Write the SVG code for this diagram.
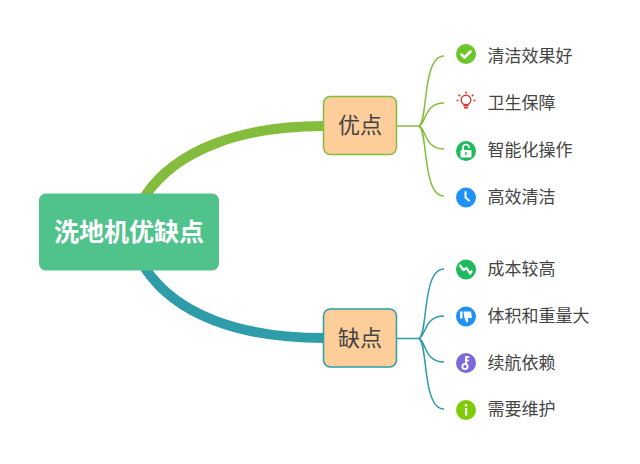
<svg xmlns="http://www.w3.org/2000/svg" width="640" height="464" viewBox="0 0 640 464">
<style>
text{font-family:"Noto Sans CJK SC","Noto Sans",sans-serif}
.leaf{font-size:17px;fill:#454545}
.sub{font-size:22px;fill:#444;text-anchor:middle}
.root{font-size:25px;font-weight:700;fill:#fff;text-anchor:middle}
.g{fill:none;stroke:#84bd3d}
.t{fill:none;stroke:#2f9ca9}
.box{fill:#fdcd9a;stroke-width:1.5}
.w{fill:none;stroke:#fff;stroke-linecap:round;stroke-linejoin:round}
</style>
<g id="connectors">
<path class="g" stroke-width="10" d="M145 196C176 150 240 126 324 126"/>
<path class="t" stroke-width="10" d="M145 268C176 315 240 338 324 338"/>
<g stroke-width="1.500">
<path class="g" d="M397 126H419"/>
<path class="g" d="M419 126C428 122 422 56 444 56"/>
<path class="g" d="M419 126C426 124 424 103 444 103"/>
<path class="g" d="M419 126C426 128 424 149 444 149"/>
<path class="g" d="M419 126C428 130 422 196 444 196"/>
<path class="t" d="M397 338.500H419"/>
<path class="t" d="M419 338.500C428 334 422 269 444 269"/>
<path class="t" d="M419 338.500C426 336 424 316 444 316"/>
<path class="t" d="M419 338.500C426 341 424 362 444 362"/>
<path class="t" d="M419 338.500C428 343 422 409 444 409"/>
</g>
</g>
<g id="root"><rect x="39" y="193.500" width="180" height="77" rx="7" fill="#50c28c"/><text class="root" x="129" y="241">洗地机优缺点</text></g>
<g id="pros"><rect class="box" x="323.500" y="96.500" width="73" height="58" rx="7" stroke="#84bd3d"/><text class="sub" x="360" y="133">优点</text></g>
<g id="cons"><rect class="box" x="323.500" y="309" width="73" height="58" rx="7" stroke="#2f9ca9"/><text class="sub" x="360" y="345.500">缺点</text></g>
<g id="p1"><circle cx="466" cy="54" r="10" fill="#6cc52d"/><path class="w" stroke-width="2.500" d="M461.500 54.500l3 3 6-6"/><text class="leaf" x="487.500" y="62">清洁效果好</text></g>
<g id="p2"><g fill="none" stroke="#d9362f" stroke-width="1.400"><circle cx="466" cy="100" r="4.800"/><path d="M466 91.500v2.300M458.500 94.500l1.700 1.700M473.500 94.500l-1.700 1.700M458.500 100.500h-2M473.500 100.500h2M463.500 105.700h5M464 107.700h4"/></g><text class="leaf" x="487.500" y="109">卫生保障</text></g>
<g id="p3"><circle cx="466" cy="151" r="10" fill="#1fba5d"/><rect x="460.500" y="150" width="11" height="7.500" rx="1" fill="#fff"/><path class="w" stroke-width="1.700" d="M463 150v-2.500a3 3 0 0 1 6 0"/><rect x="465.300" y="152" width="1.400" height="3" fill="#1fba5d"/><text class="leaf" x="487.500" y="156">智能化操作</text></g>
<g id="p4"><circle cx="466" cy="197.500" r="10" fill="#1f90f5"/><path class="w" stroke-width="2" d="M465.500 192v5.500l3.500 3"/><text class="leaf" x="487.500" y="203">高效清洁</text></g>
<g id="c1"><circle cx="466" cy="269.500" r="10" fill="#1fba5d"/><path class="w" stroke-width="2.200" d="M460 265.500l3.500 4.500 3-2 3.500 5.500 1.500-2"/><text class="leaf" x="487.500" y="275">成本较高</text></g>
<g id="c2"><circle cx="466" cy="316.500" r="10" fill="#1f90f5"/><path fill="#fff" d="M460 311.500h2.500v7H460zM463.500 311.500h7.500l1 6.500h-4l.2 4-1.700.5-2-4.500z"/><text class="leaf" x="487.500" y="322">体积和重量大</text></g>
<g id="c3"><circle cx="466" cy="363" r="10" fill="#7b68db"/><circle cx="465" cy="366.500" r="2.600" fill="none" stroke="#fff" stroke-width="1.900"/><path class="w" stroke-width="1.900" d="M466 364v-7h2.500M466 360.500h2"/><text class="leaf" x="487.500" y="369">续航依赖</text></g>
<g id="c4"><circle cx="466" cy="410" r="10" fill="#7fcb04"/><rect x="465" y="408" width="2.200" height="7.500" fill="#fff"/><circle cx="466" cy="405.300" r="1.300" fill="#fff"/><text class="leaf" x="487.500" y="415">需要维护</text></g>
</svg>
